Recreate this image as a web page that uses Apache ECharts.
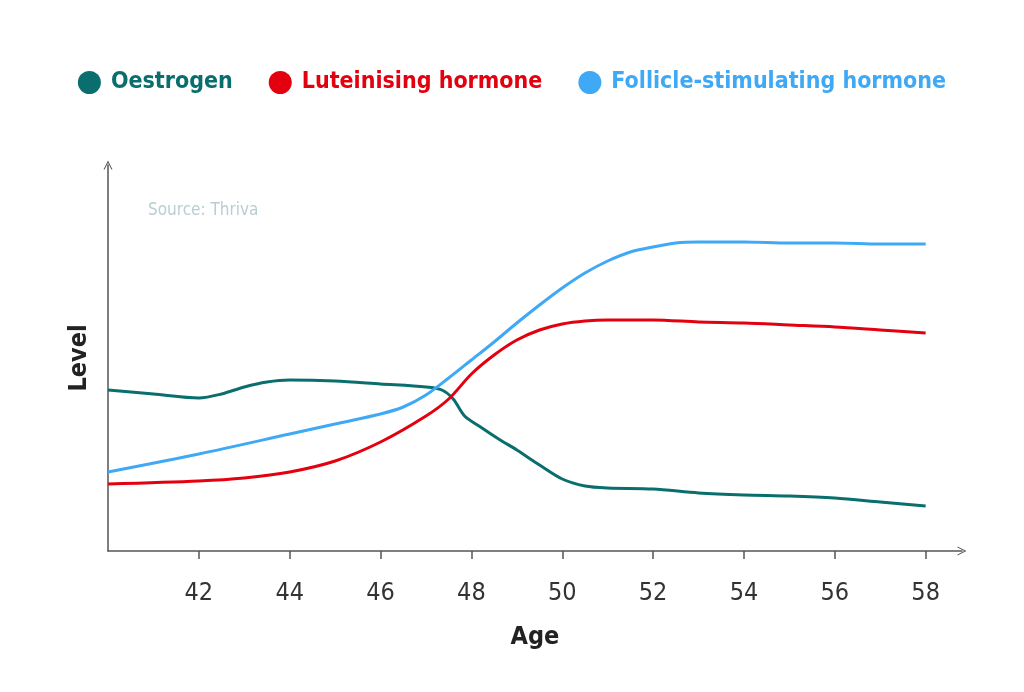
<!DOCTYPE html>
<html><head><meta charset="utf-8">
<script src="https://cdn.jsdelivr.net/npm/echarts@6/dist/echarts.min.js"></script>
<style>html,body{margin:0;padding:0;background:#fff}#c{width:1024px;height:692px}</style>
</head><body><div id="c"></div>
<script>
var FONT = "'DejaVu Sans Condensed','Liberation Sans Narrow',sans-serif";
var seriesNames = ['Oestrogen', 'Luteinising hormone', 'Follicle-stimulating hormone'];
var colors = ['#0a6e6e', '#e3000f', '#3fa9f5'];
var tickAges = [42, 44, 46, 48, 50, 52, 54, 56, 58];
// [age, level] (arbitrary level units, 0 at x-axis)
var oestrogen = [[40,161],[41,157],[42,153],[42.5,157],[43,164],[43.5,169],[44,171],[45,170],[46,167],[47,164],[47.35,161],[47.6,152],[47.85,135],[48.2,124],[48.6,112],[49,101],[49.5,86],[50,72],[50.5,65],[51,63],[52,62],[53,58],[54,56],[55,55],[56,53],[57,49],[58,45]];
var lh = [[40,67],[42,70],[43,73],[44,79],[45,90],[46,109],[47,135],[47.5,152],[48,177],[48.5,196],[49,211],[49.5,221],[50,227],[50.5,230],[51,231],[52,231],[53,229],[54,228],[55,226],[56,224],[57,221],[58,218]];
var fsh = [[40,79],[42,97],[44,117],[45,127],[46,137],[46.5,144],[47,156],[47.5,173],[48,191],[48.5,209],[49,228],[49.5,246],[50,263],[50.5,278],[51,290],[51.5,299],[52,304],[52.5,308],[53,309],[54,309],[55,308],[56,308],[57,307],[58,307]];
var allData = [oestrogen, lh, fsh];

var chart = echarts.init(document.getElementById('c'));
var chevron = 'path://M0,10 L5,0 L10,10 L8.8,10 L5,2.4 L1.2,10 Z';
chart.setOption({
  animation: false,
  title: {
    text: 'Source: Thriva', left: 143, top: 197,
    textStyle: {fontFamily: FONT, fontSize: 17, fontWeight: 'normal', color: '#b9cdd3'}
  },
  legend: {
    top: 66, left: 'center', itemWidth: 23, itemHeight: 23, itemGap: 36,
    icon: 'circle',
    textStyle: {fontFamily: FONT, fontSize: 23, fontWeight: 'bold', padding: [0, 0, 0, 5]},
    data: seriesNames.map(function (n, i) { return {name: n, textStyle: {color: colors[i]}}; })
  },
  grid: {left: 108, right: 62, top: 165, bottom: 141},
  xAxis: {
    type: 'value', min: 40, max: 58.8, interval: 2,
    name: 'Age', nameLocation: 'middle', nameGap: 74,
    nameTextStyle: {fontFamily: FONT, fontSize: 25, fontWeight: 'bold', color: '#222'},
    axisLine: {show: true, lineStyle: {color: '#555', width: 1.5}, symbol: ['none', chevron], symbolSize: [10, 9]},
    axisTick: {show: true, customValues: tickAges, length: 8, inside: false, lineStyle: {color: '#555', width: 1.5}},
    axisLabel: {customValues: tickAges, margin: 30, fontFamily: FONT, fontSize: 25, color: '#333'},
    splitLine: {show: false}
  },
  yAxis: {
    type: 'value', min: 0, max: 386,
    name: 'Level', nameLocation: 'middle', nameGap: 16, nameRotate: 90,
    nameTextStyle: {fontFamily: FONT, fontSize: 25, fontWeight: 'bold', color: '#222'},
    axisLine: {show: true, lineStyle: {color: '#555', width: 1.5}, symbol: ['none', chevron], symbolSize: [10, 9]},
    axisTick: {show: false}, axisLabel: {show: false}, splitLine: {show: false}
  },
  series: seriesNames.map(function (n, i) {
    return {
      name: n, type: 'line', data: allData[i], smooth: 0.3, showSymbol: false, symbol: 'circle',
      itemStyle: {color: colors[i]}, lineStyle: {color: colors[i], width: 3}
    };
  })
});
</script></body></html>
